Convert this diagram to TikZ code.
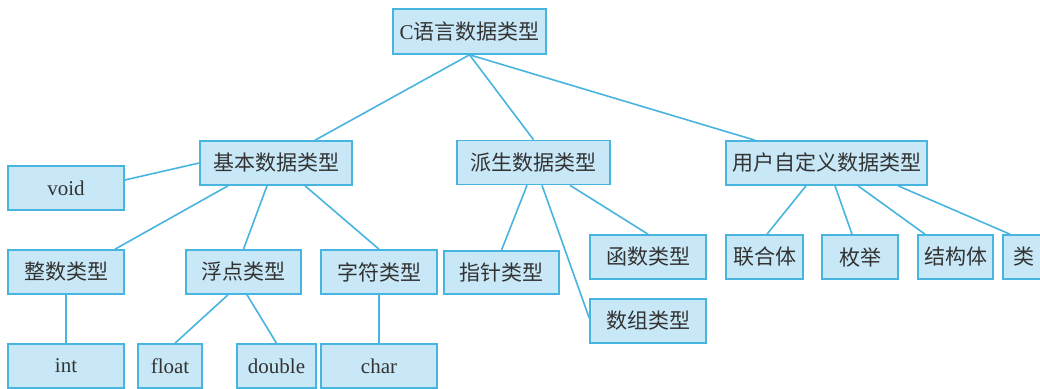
\documentclass[tikz,border=0pt]{standalone}
\usepackage{fontspec}
\setmainfont{Liberation Serif}
\newfontfamily\cjk{Noto Sans CJK SC}
\definecolor{boxfill}{RGB}{200,232,247}
\definecolor{boxline}{RGB}{72,180,224}
\begin{document}
\begin{tikzpicture}[x=1pt,y=-1pt,
  tbox/.style={draw=boxline,fill=boxfill,line width=1.6pt,minimum height=44pt,inner sep=0pt,
    font=\fontsize{21}{24}\selectfont,text=black!80},
  link/.style={draw=boxline,line width=1.6pt}]
\useasboundingbox (0,0) rectangle (1040,388);
\clip (0,0) rectangle (1040,388);
\fill[white] (0,0) rectangle (1040,388);
% level 0
\node[tbox,minimum width=153pt,minimum height=45pt] (root) at (469.5,31.5) {C{\cjk 语言数据类型}};
% level 1
\node[tbox,minimum width=152pt] (jiben) at (276,163) {\cjk 基本数据类型};
\node[tbox,minimum width=153pt] (paisheng) at (533.5,162.5) {\cjk 派生数据类型};
\node[tbox,minimum width=201pt] (yonghu) at (826.5,163) {\cjk 用户自定义数据类型};
\node[tbox,minimum width=116pt] (void) at (66,188) {void};
% level 2
\node[tbox,minimum width=116pt] (zhengshu) at (66,272) {\cjk 整数类型};
\node[tbox,minimum width=115pt] (fudian) at (243.5,272) {\cjk 浮点类型};
\node[tbox,minimum width=116pt] (zifu) at (379,272) {\cjk 字符类型};
\node[tbox,minimum width=115pt,minimum height=43pt] (zhizhen) at (501.5,272.5) {\cjk 指针类型};
\node[tbox,minimum width=116pt] (hanshu) at (648,257) {\cjk 函数类型};
\node[tbox,minimum width=116pt] (shuzu) at (648,321) {\cjk 数组类型};
\node[tbox,minimum width=77pt] (lianhe) at (764.5,257) {\cjk 联合体};
\node[tbox,minimum width=76pt] (meiju) at (860,257) {\cjk 枚举};
\node[tbox,minimum width=75pt] (jiegou) at (955.5,257) {\cjk 结构体};
\node[tbox,minimum width=42pt] (lei) at (1024,257) {\cjk 类};
% level 3
\node[tbox,minimum width=116pt] (int) at (66,366) {int};
\node[tbox,minimum width=64pt] (float) at (170,366) {float};
\node[tbox,minimum width=79pt] (double) at (276.5,366) {double};
\node[tbox,minimum width=116pt] (char) at (379,366) {char};
% connectors
\path[link] (root.south) -- ([xshift=39pt]jiben.north);
\path[link] (root.south) -- (paisheng.north);
\path[link] (root.south) -- ([xshift=-71.5pt]yonghu.north);
\path[link] (jiben.west) -- ([yshift=8pt]void.east);
\path[link] ([xshift=-48pt]jiben.south) -- ([xshift=49pt]zhengshu.north);
\path[link] ([xshift=-9pt]jiben.south) -- (fudian.north);
\path[link] ([xshift=29pt]jiben.south) -- (zifu.north);
\path[link] (zhengshu.south) -- (int.north);
\path[link] ([xshift=-15.5pt]fudian.south) -- ([xshift=5pt]float.north);
\path[link] ([xshift=3.5pt]fudian.south) -- (double.north);
\path[link] (zifu.south) -- (char.north);
\path[link] ([xshift=-6.5pt]paisheng.south) -- (zhizhen.north);
\path[link] ([xshift=8.5pt]paisheng.south) -- ([yshift=3pt]shuzu.west);
\path[link] ([xshift=36.5pt]paisheng.south) -- (hanshu.north);
\path[link] ([xshift=-20.5pt]yonghu.south) -- ([xshift=2.5pt]lianhe.north);
\path[link] ([xshift=8.5pt]yonghu.south) -- ([xshift=-8pt]meiju.north);
\path[link] ([xshift=31.5pt]yonghu.south) -- ([xshift=-30.5pt]jiegou.north);
\path[link] ([xshift=71.5pt]yonghu.south) -- ([xshift=-14pt]lei.north);
\end{tikzpicture}
\end{document}
